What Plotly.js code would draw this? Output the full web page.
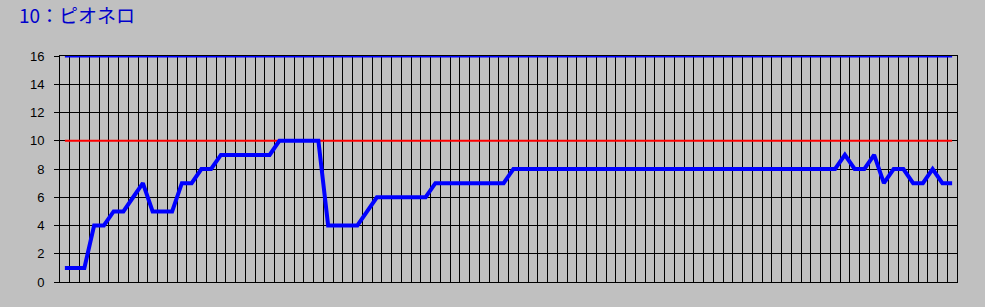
<!DOCTYPE html>
<html>
<head>
<meta charset="utf-8">
<script src="https://cdn.plot.ly/plotly-3.0.1.min.js"></script>
<style>
html,body{margin:0;padding:0;background:#C0C0C0;}
#chart{width:985px;height:307px;}
</style>
</head>
<body>
<div id="chart"></div>
<script>
const chartTitle = "10：ピオネロ";
const samples = [1,2,3,4,5,6,7,8,9,10,11,12,13,14,15,16,17,18,19,20,21,22,23,24,25,26,27,28,29,30,31,32,33,34,35,36,37,38,39,40,41,42,43,44,45,46,47,48,49,50,51,52,53,54,55,56,57,58,59,60,61,62,63,64,65,66,67,68,69,70,71,72,73,74,75,76,77,78,79,80,81,82,83,84,85,86,87,88,89,90,91,92];
const positions = [1,1,1,4,4,5,5,6,7,5,5,5,7,7,8,8,9,9,9,9,9,9,10,10,10,10,10,4,4,4,4,5,6,6,6,6,6,6,7,7,7,7,7,7,7,7,8,8,8,8,8,8,8,8,8,8,8,8,8,8,8,8,8,8,8,8,8,8,8,8,8,8,8,8,8,8,8,8,8,8,9,8,8,9,7,8,8,7,7,8,7,7];
const fieldSizeX = [1, 92];
const fieldSizeY = [16, 16];
const runnersX = [1, 92];
const runnersY = [10, 10];
const yTicks = [0,2,4,6,8,10,12,14,16];

const traces = [
  {x: fieldSizeX, y: fieldSizeY, mode: 'lines', line: {color: '#0000FF', width: 3}, hoverinfo: 'skip'},
  {x: runnersX, y: runnersY, mode: 'lines', line: {color: '#FF0000', width: 2}, hoverinfo: 'skip'},
  {x: samples, y: positions, mode: 'lines', line: {color: '#0000FF', width: 4}, hoverinfo: 'skip'}
];

const layout = {
  width: 985, height: 307,
  paper_bgcolor: '#C0C0C0', plot_bgcolor: '#C0C0C0',
  margin: {l: 60, r: 28, t: 56, b: 25, pad: 0},
  showlegend: false,
  title: {
    text: chartTitle,
    font: {family: '"Noto Sans CJK JP", "Noto Sans", sans-serif', size: 19, color: '#0000CC'},
    xref: 'container', x: 19/985, xanchor: 'left',
    yref: 'container', y: 1 - 16/307, yanchor: 'middle'
  },
  xaxis: {
    range: [0.5, 92.5],
    tick0: 0.5, dtick: 1, tickmode: 'linear',
    showticklabels: false, ticks: '',
    showgrid: true, gridcolor: '#000000', gridwidth: 1,
    zeroline: false,
    showline: true, linecolor: '#000000', linewidth: 1, mirror: true,
    fixedrange: true
  },
  yaxis: {
    range: [0, 16],
    tickvals: yTicks, ticktext: yTicks.map(String),
    ticks: 'outside', ticklen: 5, tickcolor: '#000000', tickwidth: 1,
    ticklabelstandoff: 7,
    tickfont: {family: 'Arial, "Liberation Sans", sans-serif', size: 13, color: '#000000'},
    showgrid: true, gridcolor: '#000000', gridwidth: 1,
    zeroline: false,
    showline: true, linecolor: '#000000', linewidth: 1, mirror: true,
    fixedrange: true
  }
};

Plotly.newPlot('chart', traces, layout, {displayModeBar: false, staticPlot: true});
</script>
</body>
</html>
